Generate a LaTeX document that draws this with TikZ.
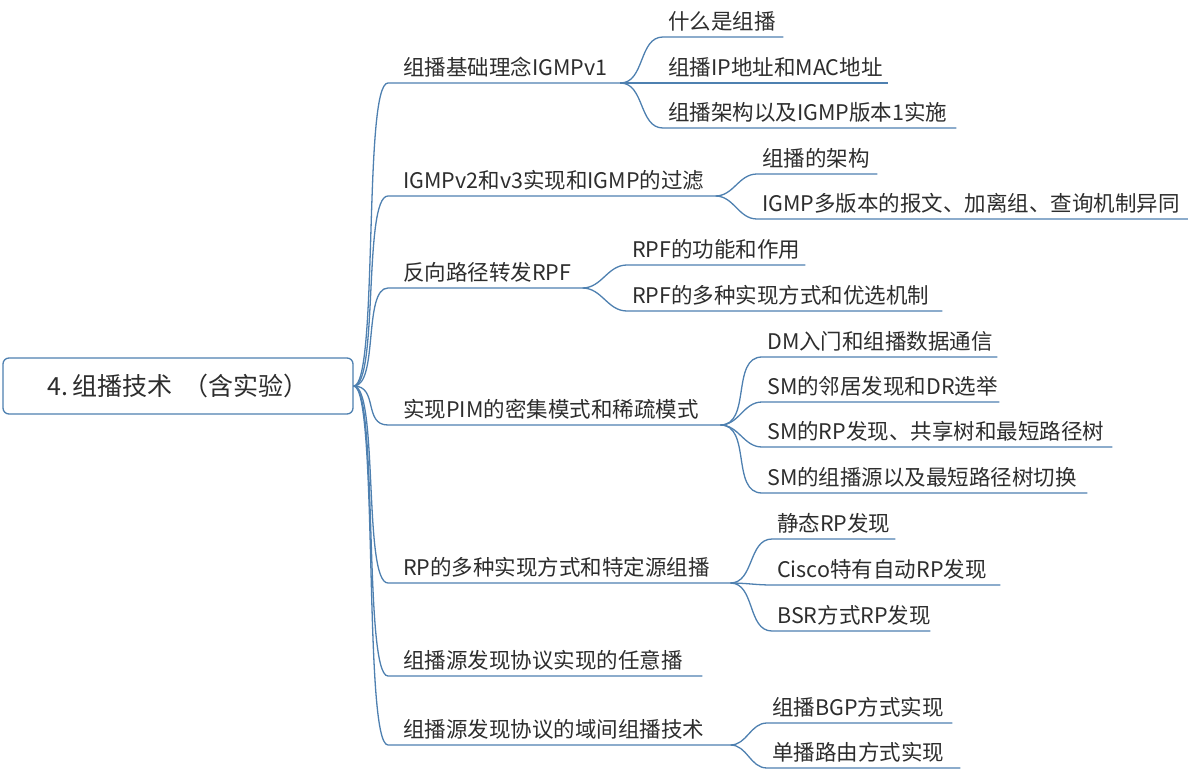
\documentclass[tikz,border=0pt]{standalone}
\usepackage{fontspec}
\newfontfamily\cjk{Noto Sans CJK SC}
\definecolor{linkblue}{RGB}{78,128,176}
\definecolor{textgray}{RGB}{45,45,45}
\tikzset{
  link/.style={draw=linkblue, line width=1.3pt},
  topic/.style={anchor=south west, inner xsep=15pt, inner ysep=2pt,
    text width=#1pt, align=left,
    text height=16pt, text depth=5pt, text=textgray,
    font=\cjk\fontsize{21.5}{24}\selectfont},
  subtopic/.style={topic=#1, inner xsep=5pt},
  rootbox/.style={draw=linkblue, line width=1.3pt, rounded corners=6pt,
    fill=white, minimum width=350pt, minimum height=56pt, text=textgray,
    font=\cjk\fontsize{25}{28}\selectfont}
}
\begin{document}
\begin{tikzpicture}[x=1pt,y=-1pt]
\useasboundingbox (0,0) rectangle (1188,776);

% hauptknoten
\node [rootbox] (root) at (178,386) {4.\,组播技术\ \ （含实验）};

% erste ebene
\node [topic=202] (b1) at (388,83)  {组播基础理念IGMPv1};
\node [topic=297] (b2) at (388,196) {IGMPv2和v3实现和IGMP的过滤};
\node [topic=164] (b3) at (388,288) {反向路径转发RPF};
\node [topic=302] (b4) at (388,425) {实现PIM的密集模式和稀疏模式};
\node [topic=312] (b5) at (388,583) {RP的多种实现方式和特定源组播};
\node [topic=284] (b6) at (388,676) {组播源发现协议实现的任意播};
\node [topic=312] (b7) at (388,745) {组播源发现协议的域间组播技术};

\foreach \b in {b1,b2,b3,b4,b5,b6,b7}
  \draw [link] (root.east) .. controls ([xshift=25pt]root.east)
    and ([xshift=-25pt]\b.south west) .. (\b.south west) -- (\b.south east);

% zweite ebene
\node [subtopic=110] (b11) at (663,37)  {什么是组播};
\node [subtopic=215] (b12) at (663,83)  {组播IP地址和MAC地址};
\node [subtopic=283] (b13) at (663,128) {组播架构以及IGMP版本1实施};

\node [subtopic=110] (b21) at (757,174) {组播的架构};
\node [subtopic=421] (b22) at (757,219) {IGMP多版本的报文、加离组、查询机制异同};

\node [subtopic=168] (b31) at (627,265) {RPF的功能和作用};
\node [subtopic=305] (b32) at (627,311) {RPF的多种实现方式和优选机制};

\node [subtopic=225] (b41) at (762,357) {DM入门和组播数据通信};
\node [subtopic=227] (b42) at (762,402) {SM的邻居发现和DR选举};
\node [subtopic=340] (b43) at (762,447) {SM的RP发现、共享树和最短路径树};
\node [subtopic=315] (b44) at (762,493) {SM的组播源以及最短路径树切换};

\node [subtopic=113] (b51) at (772,539) {静态RP发现};
\node [subtopic=218] (b52) at (772,585) {Cisco特有自动RP发现};
\node [subtopic=148] (b53) at (772,631) {BSR方式RP发现};

\node [subtopic=175] (b71) at (767,723) {组播BGP方式实现};
\node [subtopic=183] (b72) at (767,768) {单播路由方式实现};

\foreach \p/\c in {b1/b11,b1/b12,b1/b13,b2/b21,b2/b22,b3/b31,b3/b32,
    b4/b41,b4/b42,b4/b43,b4/b44,b5/b51,b5/b52,b5/b53,b7/b71,b7/b72}
  \draw [link] (\p.south east) to[out=0,in=180] (\c.south west)
    -- (\c.south east);
\end{tikzpicture}
\end{document}
